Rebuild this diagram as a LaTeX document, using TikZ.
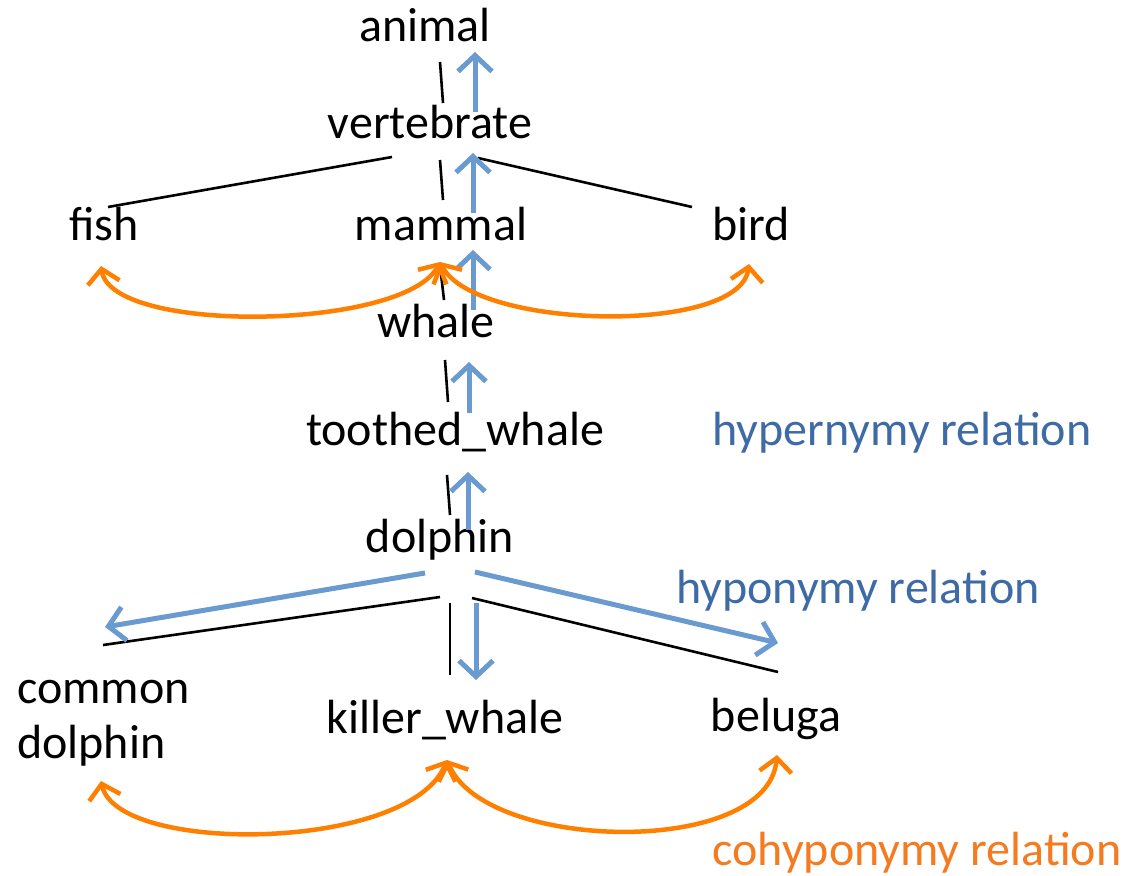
\documentclass[tikz,border=0pt]{standalone}
\usepackage{fontspec}
\setmainfont{Carlito}
\usetikzlibrary{arrows.meta}
\definecolor{arrblue}{HTML}{6A9BD0}
\definecolor{txtblue}{HTML}{3E6BA6}
\definecolor{arcorange}{HTML}{FF8000}
\definecolor{txtorange}{HTML}{F47B20}
\tikzset{
  word/.style={font=\fontsize{48}{55}\selectfont, inner sep=0pt, anchor=base},
  tree/.style={black, line width=2.6pt},
  hyper/.style={arrblue, line width=5pt, -{Straight Barb[length=16pt,width=34pt,line width=5pt]}},
  cohypo/.style={arcorange, line width=4.5pt, {Straight Barb[length=14pt,width=32pt,line width=4.5pt]}-{Straight Barb[length=14pt,width=32pt,line width=4.5pt]}},
}
\begin{document}
\begin{tikzpicture}[x=1pt,y=-1pt]
\useasboundingbox (0,0) rectangle (1129,875);
% words
\node[word] (animal) at (425,42) {animal};
\node[word] (vert) at (430,138) {vertebrate};
\node[word] (fish) at (104,240) {fish};
\node[word] (mammal) at (441,240) {mammal};
\node[word] (bird) at (751,240) {bird};
\node[word] (whale) at (436,337) {whale};
\node[word] (toothed) at (455,445) {toothed\_whale};
\node[word] (dolphin) at (440,552) {dolphin};
\node[word, align=left, anchor=base west] (common) at (17,758) {common\\dolphin};
\node[word] (killer) at (445,733) {killer\_whale};
\node[word] (beluga) at (776,731) {beluga};
\node[word, text=txtblue] (hyperlbl) at (902,445) {hypernymy relation};
\node[word, text=txtblue] (hypolbl) at (858,603) {hyponymy relation};
\node[word, text=txtorange] (cohypolbl) at (917,865) {cohyponymy relation};
% tree line end points
\coordinate (a1) at (440,62);   \coordinate (v1) at (443,103);
\coordinate (v2) at (392,157);  \coordinate (f1) at (108,207);
\coordinate (v3) at (440,160);  \coordinate (m1) at (443,200);
\coordinate (v4) at (478,158);  \coordinate (b1) at (692,207);
\coordinate (m2) at (440,265);  \coordinate (w1) at (444,300);
\coordinate (w2) at (445,360);  \coordinate (t1) at (448,402);
\coordinate (t2) at (447,475);  \coordinate (d1) at (450,515);
\coordinate (d2) at (440,597);  \coordinate (c1) at (103,645);
\coordinate (d3) at (450,603);  \coordinate (k1) at (450,675);
\coordinate (d4) at (472,598);  \coordinate (be1) at (778,672);
\draw[tree] (a1) -- (v1);
\draw[tree] (v2) -- (f1);
\draw[tree] (v3) -- (m1);
\draw[tree] (v4) -- (b1);
\draw[tree] (m2) -- (w1);
\draw[tree] (w2) -- (t1);
\draw[tree] (t2) -- (d1);
\draw[tree] (d2) -- (c1);
\draw[tree] (d3) -- (k1);
\draw[tree] (d4) -- (be1);
% hypernymy arrows (up)
\coordinate (h1s) at (475,112); \coordinate (h1e) at (475,52);
\coordinate (h2s) at (473,213); \coordinate (h2e) at (473,153);
\coordinate (h3s) at (473,310); \coordinate (h3e) at (473,250);
\coordinate (h4s) at (469,413); \coordinate (h4e) at (469,362);
\coordinate (h5s) at (468,530); \coordinate (h5e) at (468,472);
\draw[hyper] (h1s) -- (h1e);
\draw[hyper] (h2s) -- (h2e);
\draw[hyper] (h3s) -- (h3e);
\draw[hyper] (h4s) -- (h4e);
\draw[hyper] (h5s) -- (h5e);
% hyponymy arrows (down)
\coordinate (o1s) at (425,573); \coordinate (o1e) at (105,627);
\coordinate (o2s) at (476,603); \coordinate (o2e) at (476,680);
\coordinate (o3s) at (475,572); \coordinate (o3e) at (778,643);
\draw[hyper] (o1s) -- (o1e);
\draw[hyper] (o2s) -- (o2e);
\draw[hyper] (o3s) -- (o3e);
% cohyponymy arcs
\coordinate (cf) at (101,266); \coordinate (cm) at (440,262); \coordinate (cb) at (749,264);
\draw[cohypo] (cf) .. controls (112,335) and (405,330) .. (cm);
\draw[cohypo] (cm) .. controls (475,330) and (740,335) .. (cb);
\coordinate (cc) at (101,781); \coordinate (ck) at (447,760); \coordinate (cbe) at (777,755);
\draw[cohypo] (cc) .. controls (118,855) and (410,852) .. (ck);
\draw[cohypo] (ck) .. controls (485,852) and (768,858) .. (cbe);
\end{tikzpicture}
\end{document}
